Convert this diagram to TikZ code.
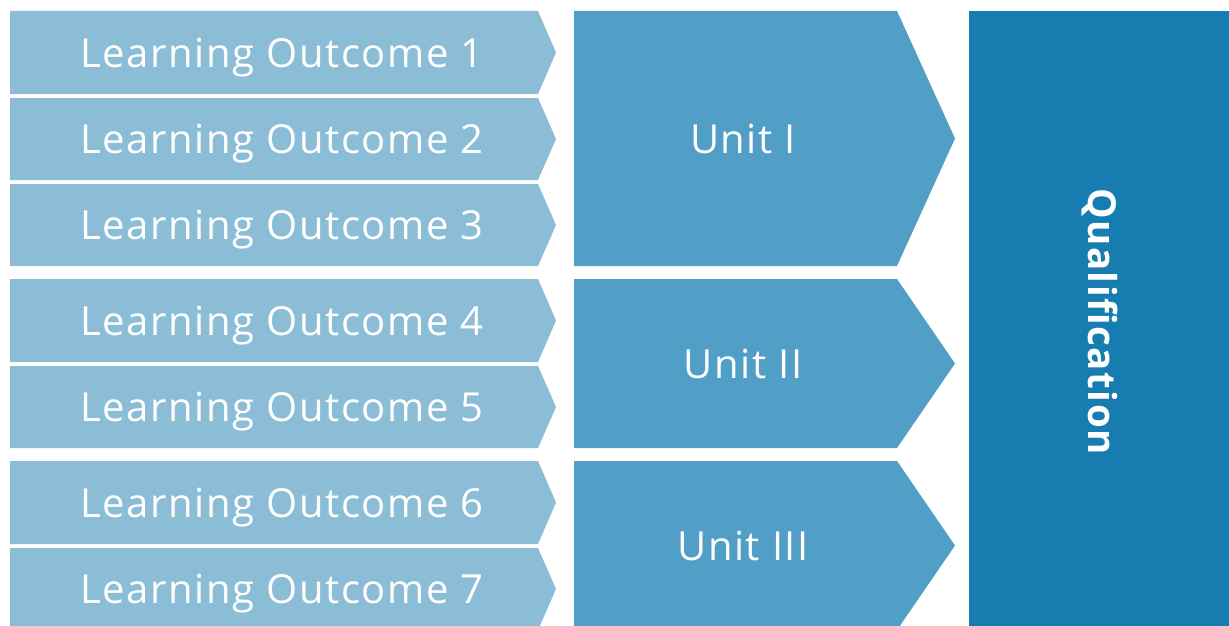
\documentclass[tikz,border=0pt]{standalone}
\usepackage{fontspec}
\setmainfont[LetterSpace=4]{Open Sans}
\usetikzlibrary{positioning}

\definecolor{locol}{HTML}{8BBDD6}
\definecolor{unitcol}{HTML}{519EC6}
\definecolor{qualcol}{HTML}{177DB0}

% pointed block: colour, left, top, right end of body, bottom, tip length
\newcommand{\chev}[6]{\fill[#1] (#2,#3) -- (#4,#3) -- ({#4+#6},{(#3+#5)/2}) -- (#4,#5) -- (#2,#5) -- cycle;}

\begin{document}
\begin{tikzpicture}[x=1pt, y=-1pt,
    txt/.style={text=white, inner sep=0pt, text height=29pt, text depth=0pt, font=\fontsize{40}{48}\selectfont}]

    \useasboundingbox (0,0) rectangle (1229,626);
    \clip (0,0) rectangle (1229,626);
    \fill[white] (0,0) rectangle (1229,626);

    % learning outcomes
    \chev{locol}{10}{11}{538}{94}{18}
    \chev{locol}{10}{98}{538}{180}{18}
    \chev{locol}{10}{184}{538}{266}{18}
    \chev{locol}{10}{279}{538}{362}{18}
    \chev{locol}{10}{366}{538}{448}{18}
    \chev{locol}{10}{461}{538}{544}{18}
    \chev{locol}{10}{548}{538}{630}{18}

    \node[txt] (lo1) at (282,52.5) {Learning Outcome 1};
    \node[txt] (lo2) at (282,139) {Learning Outcome 2};
    \node[txt] (lo3) at (282,225) {Learning Outcome 3};
    \node[txt] (lo4) at (282,320.5) {Learning Outcome 4};
    \node[txt] (lo5) at (282,407) {Learning Outcome 5};
    \node[txt] (lo6) at (282,502.5) {Learning Outcome 6};
    \node[txt] (lo7) at (282,589) {Learning Outcome 7};

    % units
    \chev{unitcol}{574}{11}{897}{266}{58}
    \chev{unitcol}{574}{279}{897}{448}{58}
    \chev{unitcol}{574}{461}{897}{630}{58}

    \node[txt] (u1) at (743,138.5) {Unit I};
    \node[txt] (u2) at (743,363.5) {Unit II};
    \node[txt] (u3) at (743,545.5) {Unit III};

    % qualification
    \fill[qualcol] (969,11) rectangle (1240,640);
    \node[txt, text height=28pt, font=\fontsize{38.5}{46}\selectfont\bfseries, rotate=-90] (qual) at (1102,321.5) {Qualification};
\end{tikzpicture}
\end{document}
